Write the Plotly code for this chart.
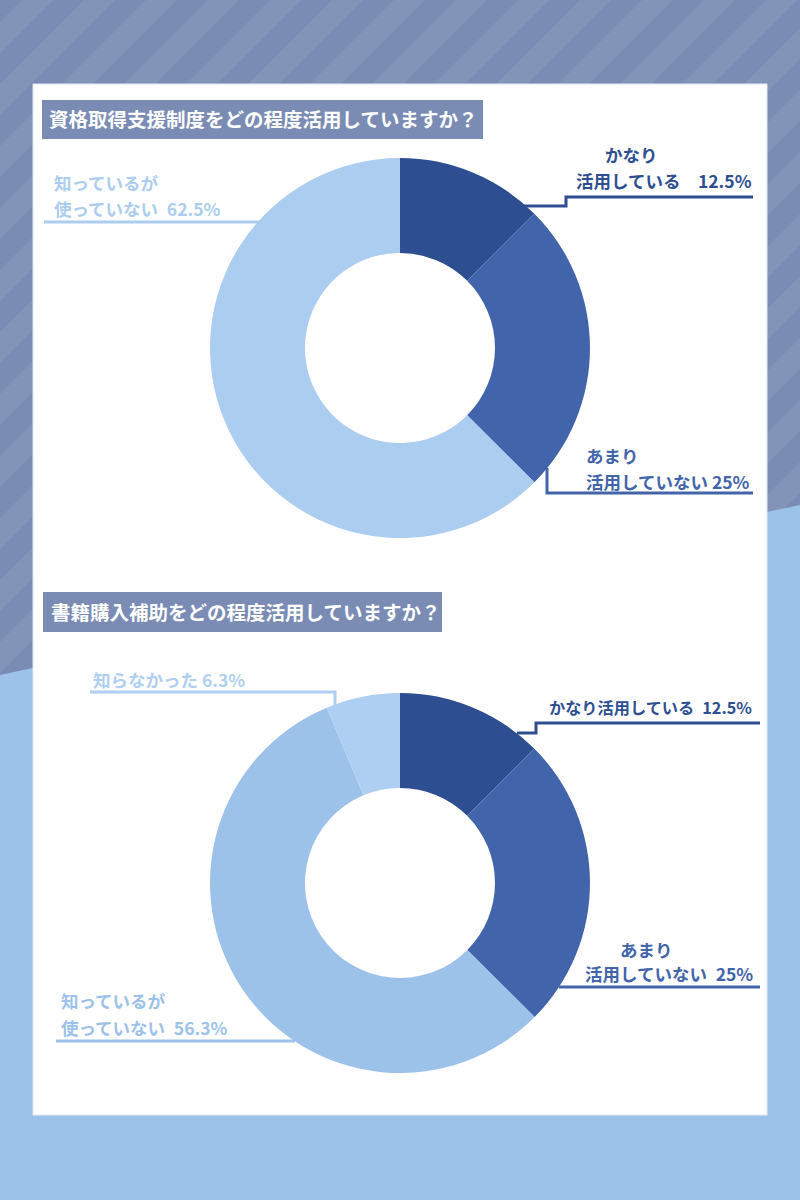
import plotly.graph_objects as go

# ---- data ----
q1_title = "資格取得支援制度をどの程度活用していますか？"
q1_labels = ["かなり活用している", "あまり活用していない", "知っているが使っていない"]
q1_values = [12.5, 25, 62.5]

q2_title = "書籍購入補助をどの程度活用していますか？"
q2_labels = ["かなり活用している", "あまり活用していない", "知っているが使っていない", "知らなかった"]
q2_values = [12.5, 25, 56.3, 6.3]

# ---- styles ----
W, H = 800, 1200
DARK = "#2d4f91"
MED = "#4264aa"
LIGHT1 = "#abcdf0"
LIGHT2 = "#9cc2ea"
LIGHT3 = "#aecff1"
GRAY = "#7a8cb4"
FONT = "Noto Sans CJK JP"
EN = "\u2002"

q1_colors = [DARK, MED, LIGHT1]
q2_colors = [DARK, MED, LIGHT2, LIGHT3]


def px(x):
    return x / W


def py(y):
    return 1 - y / H


def dom(cx, cy, r):
    return dict(x=[px(cx - r), px(cx + r)], y=[py(cy + r), py(cy - r)])


fig = go.Figure()
fig.add_trace(go.Pie(labels=q1_labels, values=q1_values, hole=0.5, sort=False,
                     direction="clockwise", rotation=0, textinfo="none",
                     hoverinfo="label+value",
                     marker=dict(colors=q1_colors, line=dict(width=0)),
                     domain=dom(400, 348, 190), showlegend=False))
fig.add_trace(go.Pie(labels=q2_labels, values=q2_values, hole=0.5, sort=False,
                     direction="clockwise", rotation=0, textinfo="none",
                     hoverinfo="label+value",
                     marker=dict(colors=q2_colors, line=dict(width=0)),
                     domain=dom(400, 883, 190), showlegend=False))

shapes = []
# background
shapes.append(dict(type="rect", xref="paper", yref="paper", x0=0, x1=1, y0=0, y1=1,
                   fillcolor=GRAY, line=dict(width=0), layer="below"))
period, sw = 62, 31
c = -40
while c < W + H + 100:
    pts = [(c, 0), (c + sw, 0), (c + sw - H, H), (c - H, H)]
    path = "M " + " L ".join(f"{px(a):.5f},{py(b):.5f}" for a, b in pts) + " Z"
    shapes.append(dict(type="path", xref="paper", yref="paper", path=path,
                       fillcolor="rgba(255,255,255,0.07)", line=dict(width=0), layer="below"))
    c += period
poly = [(0, 675), (W, 505), (W, H), (0, H)]
shapes.append(dict(type="path", xref="paper", yref="paper",
                   path="M " + " L ".join(f"{px(a):.5f},{py(b):.5f}" for a, b in poly) + " Z",
                   fillcolor=LIGHT2, line=dict(width=0), layer="below"))
# card
shapes.append(dict(type="rect", xref="paper", yref="paper", x0=px(33), x1=px(767),
                   y0=py(1115), y1=py(84), fillcolor="white",
                   line=dict(color="#dfe9f6", width=1), layer="below"))
# title boxes
shapes.append(dict(type="rect", xref="paper", yref="paper", x0=px(42), x1=px(483),
                   y0=py(139), y1=py(100), fillcolor=GRAY, line=dict(width=0), layer="below"))
shapes.append(dict(type="rect", xref="paper", yref="paper", x0=px(43), x1=px(442),
                   y0=py(632), y1=py(592), fillcolor=GRAY, line=dict(width=0), layer="below"))


def leader(pts, color):
    path = "M " + " L ".join(f"{px(a):.5f},{py(b):.5f}" for a, b in pts)
    shapes.append(dict(type="path", xref="paper", yref="paper", path=path,
                       line=dict(color=color, width=3), layer="above"))


# chart 1 leaders
leader([(523, 206), (566, 206), (566, 197), (753, 197)], DARK)
leader([(547, 468), (547, 493), (753, 493)], MED)
leader([(44, 222), (260, 222)], LIGHT1)
# chart 2 leaders
leader([(517, 733), (536, 733), (536, 723), (760, 723)], DARK)
leader([(559, 987), (760, 987)], MED)
leader([(56, 1041), (295, 1041)], LIGHT2)
leader([(90, 692), (335, 692), (335, 706)], LIGHT3)

annotations = []


def txt(s, x, y, color, anchor="left", size=17.5):
    annotations.append(dict(text=f"<b>{s}</b>", x=px(x), y=py(y), xref="paper", yref="paper",
                            xanchor=anchor, yanchor="middle", showarrow=False,
                            font=dict(family=FONT, size=size, color=color)))


txt(q1_title, 47, 119, "white", size=19.5)
txt(q2_title, 49, 611, "white", size=19.5)

txt("かなり", 631, 155, DARK, anchor="center")
txt("活用している　12.5%", 754, 180, DARK, anchor="right")
txt("あまり", 584, 455, MED)
txt("活用していない 25%", 584, 481, MED)
txt("知っているが", 52, 183, LIGHT1)
txt(f"使っていない{EN}62.5%", 52, 208, LIGHT1)

txt("知らなかった 6.3%", 91, 679, LIGHT3)
txt(f"かなり活用している{EN}12.5%", 754, 707, DARK, anchor="right", size=16.2)
txt("あまり", 646, 949, MED, anchor="center")
txt(f"活用していない{EN}25%", 755, 973, MED, anchor="right")
txt("知っているが", 59, 1000, LIGHT2)
txt(f"使っていない{EN}56.3%", 59, 1027, LIGHT2)

fig.update_layout(width=W, height=H, margin=dict(l=0, r=0, t=0, b=0),
                  paper_bgcolor=GRAY, plot_bgcolor=GRAY,
                  shapes=shapes, annotations=annotations,
                  xaxis=dict(visible=False), yaxis=dict(visible=False))
fig.write_html("out.html", config={"displayModeBar": False},
               post_script="document.body.style.margin='0';")
